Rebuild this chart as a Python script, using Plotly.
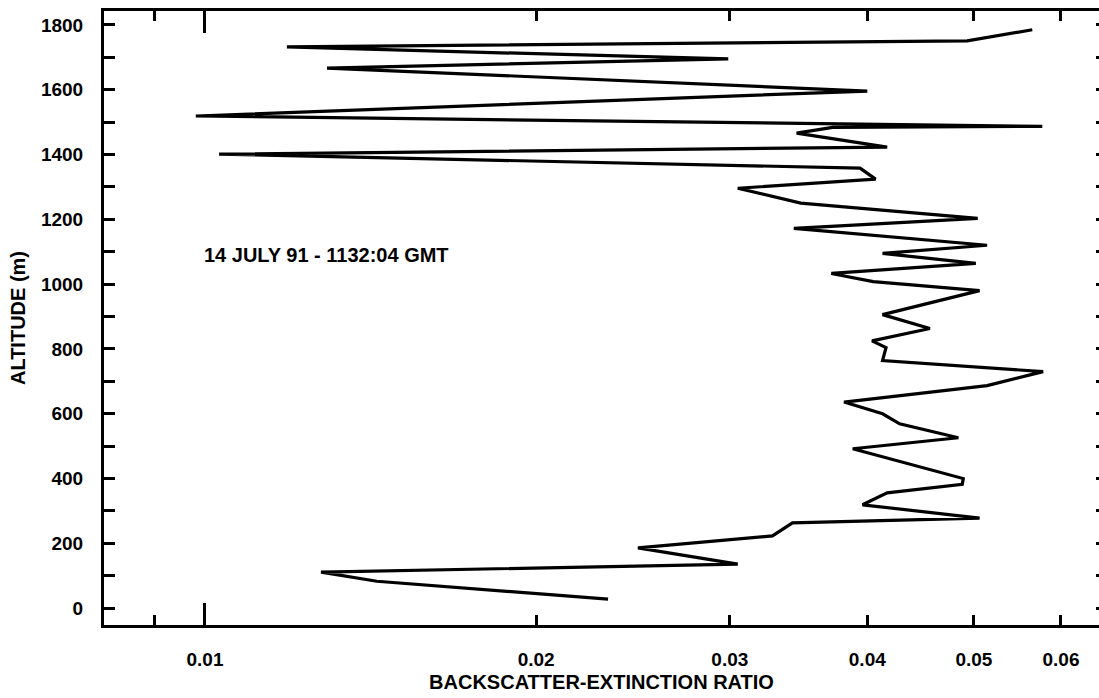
import plotly.graph_objects as go

# Backscatter-extinction ratio profile, listed from the lowest altitude upward
ratio = [
    0.02325, 0.01433, 0.01275, 0.0305, 0.02475, 0.0328, 0.0342, 0.0506,
    0.0396, 0.0417, 0.0488, 0.0489, 0.0388, 0.0484, 0.0428, 0.0413,
    0.0381, 0.0514, 0.0578, 0.0413, 0.0416, 0.0404, 0.0456, 0.0413,
    0.0506, 0.0405, 0.0371, 0.0502, 0.0413, 0.0514, 0.0343, 0.0504,
    0.0348, 0.0305, 0.0407, 0.0394, 0.0103, 0.0417, 0.0345, 0.0372,
    0.0577, 0.00981, 0.0400, 0.01291, 0.0299, 0.01187, 0.0493, 0.0565,
]
altitude = [
    28, 83, 111, 136, 186, 223, 263, 278,
    319, 356, 382, 400, 492, 526, 569, 600,
    636, 687, 730, 764, 804, 825, 863, 906,
    980, 1008, 1033, 1064, 1095, 1120, 1172, 1203,
    1250, 1296, 1324, 1358, 1401, 1423, 1466, 1484,
    1487, 1519, 1596, 1667, 1695, 1732, 1751, 1785,
]

x_tick_vals = [0.009, 0.01, 0.02, 0.03, 0.04, 0.05, 0.06]
x_tick_text = ["", "0.01", "0.02", "0.03", "0.04", "0.05", "0.06"]
y_tick_vals = list(range(0, 1900, 100))
y_tick_text = [str(v) if v % 200 == 0 else "" for v in y_tick_vals]

x_range_log = [-2.0918, -1.1873]
y_range = [-52, 1843]

label_font = dict(family="Liberation Sans, Arial, sans-serif", size=19,
                  color="black", weight="bold")
title_font = dict(family="Liberation Sans, Arial, sans-serif", size=20,
                  color="black", weight="bold")

fig = go.Figure()
fig.add_trace(go.Scatter(
    x=ratio, y=altitude, mode="lines",
    line=dict(color="black", width=3.2),
    showlegend=False, hoverinfo="skip",
))
# helper trace so the overlay axes (long 0.01 tick, right-hand stubs) get drawn
fig.add_trace(go.Scatter(
    x=[0.01], y=[0], xaxis="x2", yaxis="y2", mode="markers",
    marker=dict(opacity=0), showlegend=False, hoverinfo="skip",
))

fig.update_layout(
    width=1099, height=698,
    margin=dict(l=104, r=0, t=11, b=73),
    paper_bgcolor="white", plot_bgcolor="white",
    xaxis=dict(
        type="log", range=x_range_log,
        tickmode="array", tickvals=x_tick_vals, ticktext=x_tick_text,
        ticks="inside", ticklen=10, tickwidth=3, tickcolor="black",
        showline=True, linewidth=3, linecolor="black", mirror="ticks",
        showgrid=False, zeroline=False,
        tickfont=label_font, ticklabelstandoff=15,
        title=dict(text="BACKSCATTER-EXTINCTION RATIO", font=title_font, standoff=7),
    ),
    xaxis2=dict(
        type="log", range=x_range_log, overlaying="x", anchor="y", side="bottom",
        tickmode="array", tickvals=[0.01], ticktext=[""],
        ticks="inside", ticklen=22, tickwidth=3, tickcolor="black",
        showline=False, mirror="ticks", showgrid=False, zeroline=False,
        showticklabels=False,
    ),
    yaxis=dict(
        range=y_range,
        tickmode="array", tickvals=y_tick_vals, ticktext=y_tick_text,
        ticks="inside", ticklen=11, tickwidth=3, tickcolor="black",
        showline=True, linewidth=3, linecolor="black", mirror=False,
        showgrid=False, zeroline=False,
        tickfont=label_font, ticklabelstandoff=14,
        title=dict(text="ALTITUDE (m)", font=title_font, standoff=10),
    ),
    yaxis2=dict(
        range=y_range, overlaying="y", anchor="x", side="right",
        tickmode="array", tickvals=y_tick_vals,
        ticks="inside", ticklen=3, tickwidth=3, tickcolor="black",
        showline=False, showgrid=False, zeroline=False, showticklabels=False,
    ),
    annotations=[dict(
        text="14 JULY 91 - 1132:04 GMT",
        xref="paper", yref="paper", x=0.0985, y=0.6026,
        xanchor="left", yanchor="middle", showarrow=False,
        font=dict(family="Liberation Sans, Arial, sans-serif", size=20,
                  color="black", weight="bold"),
    )],
)

fig.write_html("out.html")
